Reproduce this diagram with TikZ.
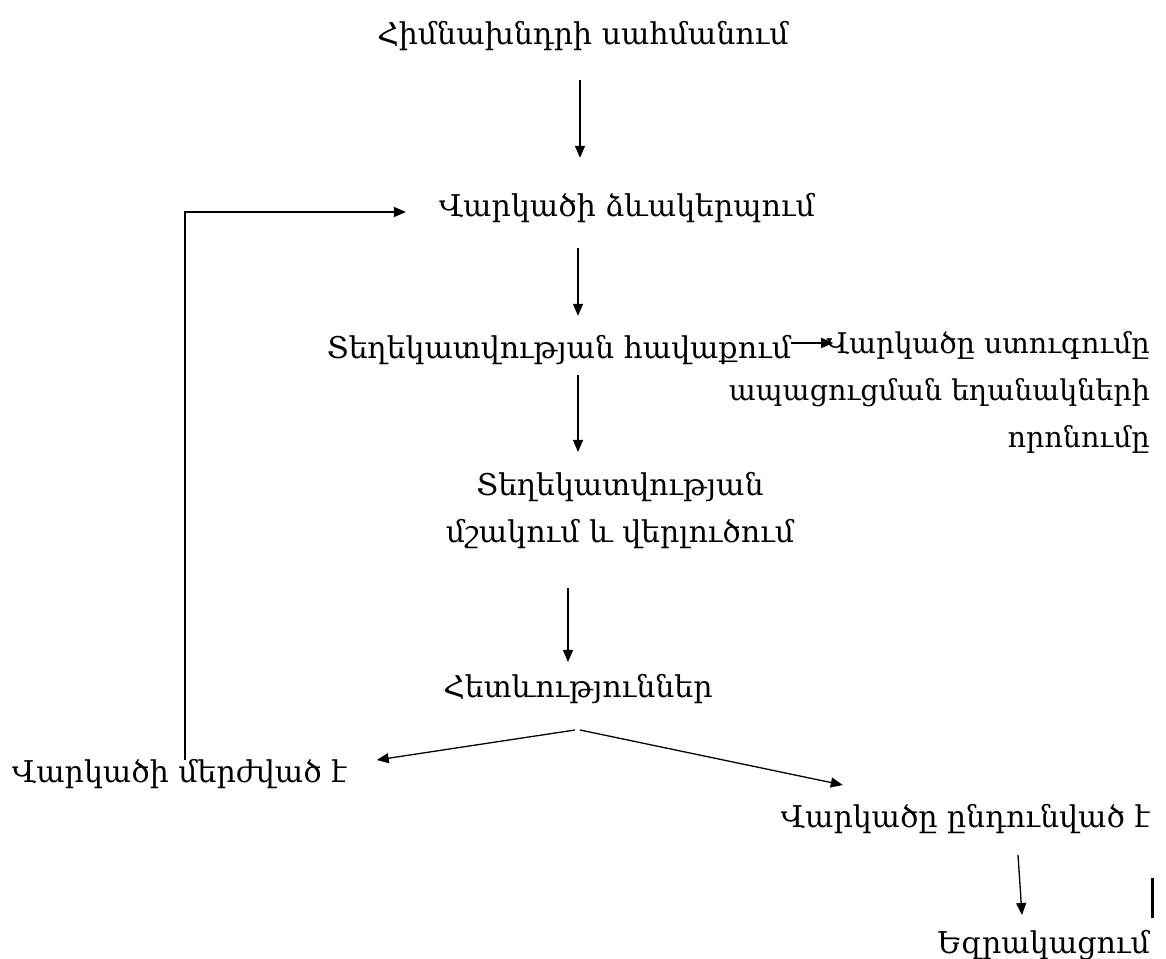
\documentclass[tikz,border=0pt]{standalone}
\usepackage{fontspec}
\setmainfont{DejaVu Serif}
\usetikzlibrary{arrows.meta}
\begin{document}
\begin{tikzpicture}[x=1pt,y=1pt,
  lbl/.style={inner sep=0pt, font=\fontsize{30}{46}\selectfont, text height=22pt, text depth=8pt},
  mlbl/.style={inner sep=0pt, font=\fontsize{30}{47}\selectfont},
  arr/.style={-{Triangle[length=12pt,width=10pt]}, line width=1.3pt}]
\useasboundingbox (0,0) rectangle (1166,958);
% nodes
\node[lbl, anchor=base] (t1) at (583,913) {Հիմնախնդրի սահմանում};
\node[lbl, anchor=base] (t2) at (627,741) {Վարկածի ձևակերպում};
\node[lbl, anchor=base] (t3) at (559,599) {Տեղեկատվության հավաքում};
\node[mlbl, font=\fontsize{28.5}{47}\selectfont, anchor=base east, align=right] (t4) at (1150,510) {Վարկածը ստուգումը\\ապացուցման եղանակների\\որոնումը};
\node[mlbl, anchor=base, align=center] (t5) at (620,415) {Տեղեկատվության\\մշակում և վերլուծում};
\node[lbl, anchor=base] (t6) at (578,260) {Հետևություններ};
\node[lbl, anchor=base west] (t7) at (12,175) {Վարկածի մերժված է};
\node[lbl, anchor=base east] (t8) at (1150,131) {Վարկածը ընդունված է};
\node[lbl, anchor=base east] (t9) at (1150,5) {Եզրակացում};
\coordinate (cA) at (580,0);
\coordinate (cB) at (578,0);
\coordinate (cC) at (568,0);
% connectors
\draw[arr, shorten <=27pt, shorten >=37pt] (t1.south -| cA) -- (t2.north -| cA);
\draw[arr, shorten <=23pt, shorten >=21pt] (t2.south -| cB) -- (t3.north -| cB);
\draw[arr] ([yshift=16pt]t3.base east) -- ++(42,0);
\draw[arr, shorten <=8pt] (t3.south -| cB) -- ([yshift=91pt]t5.base -| cB);
\draw[arr] ([yshift=-45pt]t5.base -| cC) -- ([yshift=36pt]t6.base -| cC);
\draw[arr] ([shift={(173,23)}]t7.base west) |- ([shift={(-33,5)}]t2.base west);
\coordinate (br) at ([yshift=-32pt]t6.base);
\draw[arr] ([xshift=-3pt]br) -- ([shift={(30,23)}]t7.base east);
\draw[arr] ([xshift=2pt]br) -- ([shift={(62,42)}]t8.base west);
\draw[arr] ([shift={(-132,-28)}]t8.base east) -- ([shift={(-128,38)}]t9.base east);
\draw[line width=3pt] (1152,80) -- (1152,40);
\end{tikzpicture}
\end{document}
